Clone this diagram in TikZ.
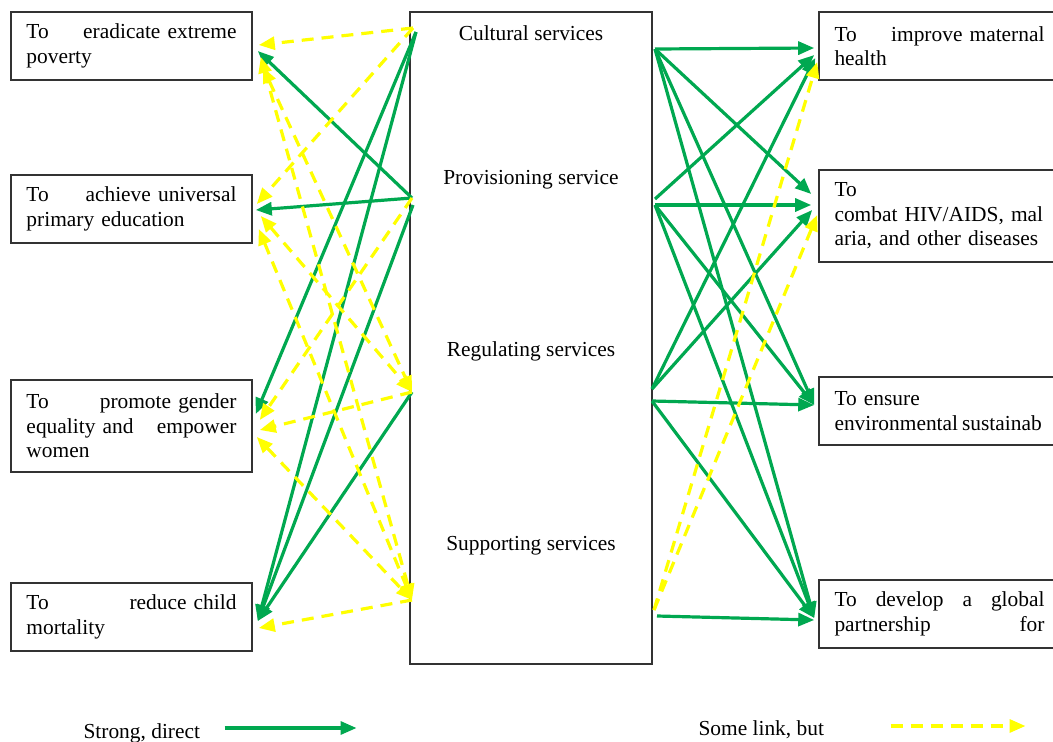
\documentclass[tikz,border=0pt]{standalone}
\usepackage{fontspec}
\setmainfont{Liberation Serif}
\usetikzlibrary{arrows.meta,calc}

\definecolor{linkgreen}{RGB}{0,168,80}
\definecolor{linkyellow}{RGB}{255,255,0}

\begin{document}
\begin{tikzpicture}[x=1pt, y=-1pt,
    goal/.style={rectangle, draw=black!80, line width=1.6pt, text width=210pt, inner xsep=15.5pt, inner ysep=0pt, minimum height=68pt, font={\fontsize{21.4}{24.4}\selectfont\hyphenpenalty10000}},
    svclabel/.style={font={\fontsize{21.4}{24.4}\selectfont}},
    strong/.style={draw=linkgreen, line width=3.2pt, -{Triangle[length=16pt,width=13pt]}},
    weak/.style={draw=linkyellow, line width=3.2pt, dash pattern=on 12pt off 8pt, -{Triangle[length=16pt,width=13pt]}},
    weakboth/.style={weak, {Triangle[length=16pt,width=13pt]}-{Triangle[length=16pt,width=13pt]}}
]
\useasboundingbox (0,0) rectangle (1053,742);

% Goals on the left
\node[goal] (pov) at (131.5,46) {To\hfill eradicate extreme\\poverty};
\node[goal] (edu) at (131.5,209) {To\hfill achieve universal\\primary education};
\node[goal, minimum height=92pt] (gen) at (131.5,426) {To\hfill promote gender\\equality and\hfill empower\\women};
\node[goal] (mort) at (131.5,617) {To\hfill reduce child\\mortality};

% Ecosystem services
\node[rectangle, draw=black!80, line width=1.6pt, minimum width=242pt, minimum height=652pt] (svc) at (531,338) {};
\node[svclabel] (cult) at (531,33) {Cultural services};
\node[svclabel] (prov) at (531,180) {Provisioning service};
\node[svclabel] (reg) at (531,351) {Regulating services};
\node[svclabel] (sup) at (531,546) {Supporting services};

% Goals on the right
\node[goal] (mat) at (939.5,46) {To\hfill improve maternal\\health};
\node[goal, minimum height=92pt] (hiv) at (939.5,216) {To\\combat HIV/AIDS, mal\\aria, and other diseases};
\node[goal] (env) at (939.5,411) {To ensure\\\mbox{environmental\hspace{4pt}sustainab}};
\node[goal] (glob) at (939.5,614) {To\hfill develop\hfill a\hfill global\\partnership\hfill for};

% attach points on the services box
\coordinate (cultWy) at (413,28);
\coordinate (cultWg) at (416,32);
\coordinate (provW) at (412,198);
\coordinate (provW2) at (413,205);
\coordinate (regW) at (412,392);
\coordinate (supW) at (412,600);
\coordinate (cultE) at (655,49);
\coordinate (provE) at (655,199);
\coordinate (provE2) at (655,205);
\coordinate (regE) at (652,389);
\coordinate (regE2) at (652,401);
\coordinate (supE) at (657,616);
\coordinate (supEy) at (654,610);

% strong links, left
\draw[strong] (provW) -- ($(pov.east)+(5,5)$);
\draw[strong] (provW) -- ($(edu.east)+(3,1)$);
\draw[strong] (cultWg) -- ($(gen.east)+(3,-12)$);
\draw[strong] (cultWg) -- ($(mort.east)+(5,4)$);
\draw[strong] (provW2) -- ($(mort.east)+(5,4)$);
\draw[strong] (regW) -- ($(mort.east)+(5,4)$);

% weak links, left
\draw[weak] (cultWy) -- ($(pov.east)+(6,-1)$);
\draw[weak] (cultWy) -- ($(edu.east)+(4,-5)$);
\draw[weakboth] ($(pov.east)+(8,11)$) -- (supW);
\draw[weakboth] ($(pov.east)+(10,21)$) -- (regW);
\draw[weakboth] ($(edu.east)+(8,7)$) -- (regW);
\draw[weakboth] ($(edu.east)+(6,20)$) -- (supW);
\draw[weak] (provW) -- ($(gen.east)+(7,-6)$);
\draw[weak] (regW) -- ($(gen.east)+(7,4)$);
\draw[weakboth] ($(gen.east)+(4,11)$) -- (supW);
\draw[weak] (supW) -- ($(mort.east)+(6,11)$);

% strong links, right
\draw[strong] (cultE) -- ($(mat.west)+(-4,2)$);
\draw[strong] (cultE) -- ($(hiv.west)+(-7,-22)$);
\draw[strong] (cultE) -- ($(env.west)+(-4,-6)$);
\draw[strong] (cultE) -- ($(glob.west)+(-4,4)$);
\draw[strong] (provE) -- ($(mat.west)+(-4,9)$);
\draw[strong] (provE2) -- ($(hiv.west)+(-7,-11)$);
\draw[strong] (provE2) -- ($(env.west)+(-4,-6)$);
\draw[strong] (provE2) -- ($(glob.west)+(-4,4)$);
\draw[strong] (regE) -- ($(mat.west)+(-3,12)$);
\draw[strong] (regE) -- ($(hiv.west)+(-6,-6)$);
\draw[strong] (regE2) -- ($(env.west)+(-4,-6)$);
\draw[strong] (regE2) -- ($(glob.west)+(-4,4)$);
\draw[strong] (supE) -- ($(glob.west)+(-4,6)$);

% weak links, right
\draw[weak] (supEy) -- ($(mat.west)+(-1,16)$);
\draw[weak] (supEy) -- ($(hiv.west)+(-1,-1)$);

% legend
\node[svclabel, anchor=base west] (strongtxt) at (80,738) {Strong, direct};
\draw[strong] ($(strongtxt.base east)+(21,-10)$) -- ++(132,0);
\node[svclabel, anchor=base west] (weaktxt) at (695,735) {Some link, but};
\draw[weak] ($(weaktxt.base east)+(63,-9)$) -- ++(135,0);

\end{tikzpicture}
\end{document}
